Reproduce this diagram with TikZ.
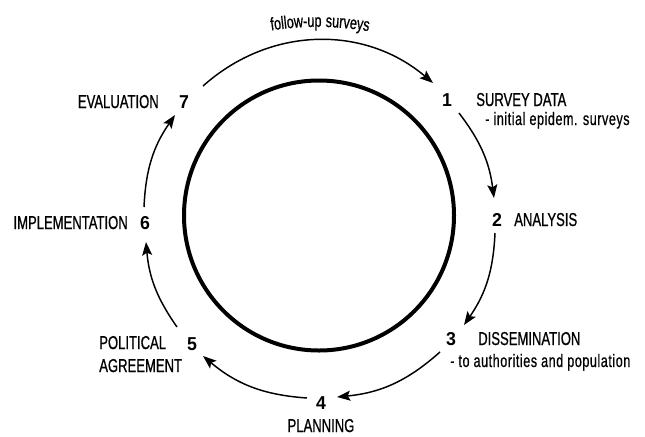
\documentclass[tikz,border=0pt]{standalone}
\usepackage{fontspec}
\setmainfont{Liberation Sans}[FakeStretch=0.7]
\newfontfamily\numfont{Liberation Sans}[FakeStretch=0.95]
\newfontfamily\labfont{Liberation Sans}[FakeStretch=0.7,FakeBold=0.8]
\newfontfamily\subfont{Liberation Sans}[FakeStretch=0.7,LetterSpace=3,FakeBold=0.6]
\usetikzlibrary{arrows.meta,decorations.text}
\begin{document}
\begin{tikzpicture}[x=0.75pt,y=-0.75pt,
  num/.style={inner sep=0pt, font=\numfont\fontsize{14}{15}\selectfont\bfseries, anchor=base},
  lab/.style={inner sep=0pt, font=\labfont\fontsize{14}{15}\selectfont},
  sub/.style={inner sep=0pt, font=\subfont\fontsize{13.5}{15}\selectfont},
  flow/.style={line width=1.1pt, -{Stealth[length=10pt,width=7.5pt,inset=2pt]}},
]
\useasboundingbox (0,0) rectangle (645,436);
\node[circle, draw, line width=3pt, minimum size=202.5pt, inner sep=0pt] (ring) at (319,215.5) {};

% numbers
\node[num] (n1) at (447,106) {1};
\node[num] (n2) at (497,226) {2};
\node[num] (n3) at (451,345) {3};
\node[num] (n4) at (321,409) {4};
\node[num] (n5) at (192,350) {5};
\node[num] (n6) at (145,229) {6};
\node[num] (n7) at (184,108) {7};

% labels
\node[lab, anchor=base west] (l1) at (476,106) {SURVEY DATA};
\node[sub, anchor=base west] (l1b) at (485,125) {- initial epidem. surveys};
\node[lab, anchor=base west] (l2) at (514,226) {ANALYSIS};
\node[lab, anchor=base west] (l3) at (478,345) {DISSEMINATION};
\node[sub, anchor=base west] (l3b) at (450,367) {- to authorities and population};
\node[lab, anchor=base] (l4) at (321,432) {PLANNING};
\node[lab, anchor=base west] (l5) at (99,349) {POLITICAL};
\node[lab, anchor=base west] (l5b) at (99,372) {AGREEMENT};
\node[lab, anchor=base east] (l6) at (128,229) {IMPLEMENTATION};
\node[lab, anchor=base east] (l7) at (159,108) {EVALUATION};

% arrow end points
\coordinate (a7s) at (203,86);  \coordinate (a1e) at (433,83);
\coordinate (a1s) at (459,113); \coordinate (a2e) at (494,198);
\coordinate (a2s) at (495,233); \coordinate (a3e) at (464,325);
\coordinate (a3s) at (440,352); \coordinate (a4e) at (337,397);
\coordinate (a4s) at (307,398); \coordinate (a5e) at (203,356);
\coordinate (a5s) at (177,327); \coordinate (a6e) at (146,242);
\coordinate (a6s) at (144,207); \coordinate (a7e) at (175,115);

\draw[flow] (a7s) to[bend left=41] (a1e);
\draw[flow] (a1s) to[bend left=15] (a2e);
\draw[flow] (a2s) to[bend left=16] (a3e);
\draw[flow] (a3s) to[bend left=18] (a4e);
\draw[flow] (a4s) to[bend left=18] (a5e);
\draw[flow] (a5s) to[bend left=15] (a6e);
\draw[flow] (a6s) to[bend left=16] (a7e);

% follow-up surveys label along arc
\coordinate (f1) at (255,33);
\coordinate (f2) at (385,34);
\path[decorate, decoration={text along path, text align=center,
  text={|\subfont\fontsize{13.5}{15}\selectfont|follow-up surveys}}]
  (f1) to[bend left=10] (f2);
\end{tikzpicture}
\end{document}
